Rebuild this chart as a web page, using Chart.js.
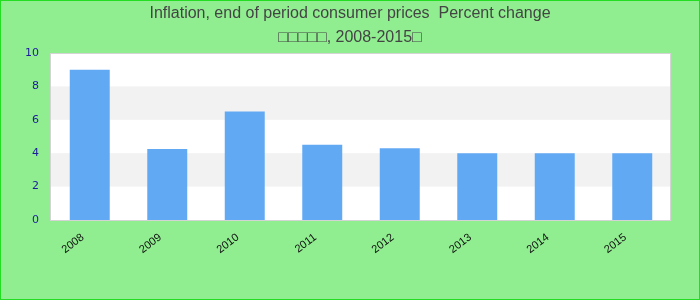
<!DOCTYPE html>
<html>
<head>
<meta charset="utf-8">
<script src="https://cdn.jsdelivr.net/npm/chart.js@4/dist/chart.umd.min.js"></script>
<style>
  html, body { margin: 0; padding: 0; background: #90ee90; }
  #wrap { width: 698px; height: 298px; border: 1px solid #22dd22; background: #90ee90; }
</style>
</head>
<body>
<div id="wrap"><canvas id="chart1" width="698" height="298"></canvas></div>
<script>
const years = ['2008', '2009', '2010', '2011', '2012', '2013', '2014', '2015'];
const inflation = [9.0, 4.25, 6.5, 4.5, 4.3, 4.0, 4.0, 4.0];
const titleLines = ['Inflation, end of period consumer prices  Percent change', '\u25A1\u25A1\u25A1\u25A1\u25A1, 2008-2015\u25A1'];
const bandEdges = [[2, 4], [6, 8]];

const bandsPlugin = {
  id: 'bands',
  beforeDatasetsDraw(chart) {
    const { ctx, chartArea: a, scales: { y } } = chart;
    ctx.save();
    ctx.fillStyle = '#ffffff';
    ctx.fillRect(a.left, a.top, a.right - a.left, a.bottom - a.top);
    ctx.fillStyle = '#f2f2f2';
    bandEdges.forEach(([lo, hi]) => {
      const y1 = y.getPixelForValue(hi);
      const y2 = y.getPixelForValue(lo);
      ctx.fillRect(a.left, y1, a.right - a.left, y2 - y1);
    });
    ctx.strokeStyle = '#d4d4d4';
    ctx.lineWidth = 1;
    ctx.strokeRect(a.left - 0.5, a.top + 0.5, a.right - a.left, a.bottom - a.top);
    ctx.restore();
  }
};

new Chart(document.getElementById('chart1'), {
  type: 'bar',
  data: {
    labels: years,
    datasets: [{
      data: inflation,
      backgroundColor: '#62a9f4',
      borderWidth: 0,
      barPercentage: 0.516,
      categoryPercentage: 1
    }]
  },
  options: {
    responsive: false,
    animation: false,
    layout: { padding: 0 },
    plugins: {
      legend: { display: false },
      tooltip: { enabled: false },
      title: {
        display: true,
        text: titleLines,
        color: '#444444',
        font: { family: '"Liberation Sans", Arial, sans-serif', size: 16, weight: 'normal', lineHeight: 1.5 },
        padding: { top: 1, bottom: 3 }
      }
    },
    scales: {
      x: {
        grid: { display: false, drawTicks: false },
        border: { display: false },
        ticks: {
          color: '#111111',
          font: { family: '"Liberation Sans", Arial, sans-serif', size: 11 },
          minRotation: 37,
          maxRotation: 37,
          padding: 11,
          labelOffset: -7
        },
        afterFit: (s) => { s.height = 79; }
      },
      y: {
        min: 0,
        max: 10,
        grid: { display: false, drawTicks: false },
        border: { display: false },
        ticks: {
          stepSize: 2,
          color: '#1c1c9c',
          font: { family: '"DejaVu Sans", sans-serif', size: 11 },
          padding: 12
        },
        afterFit: (s) => { s.width = 50; }
      },
      yRight: {
        position: 'right',
        min: 0,
        max: 10,
        grid: { display: false, drawTicks: false },
        border: { display: false },
        ticks: { display: false },
        afterFit: (s) => { s.width = 28; }
      }
    }
  },
  plugins: [bandsPlugin]
});
</script>
</body>
</html>
